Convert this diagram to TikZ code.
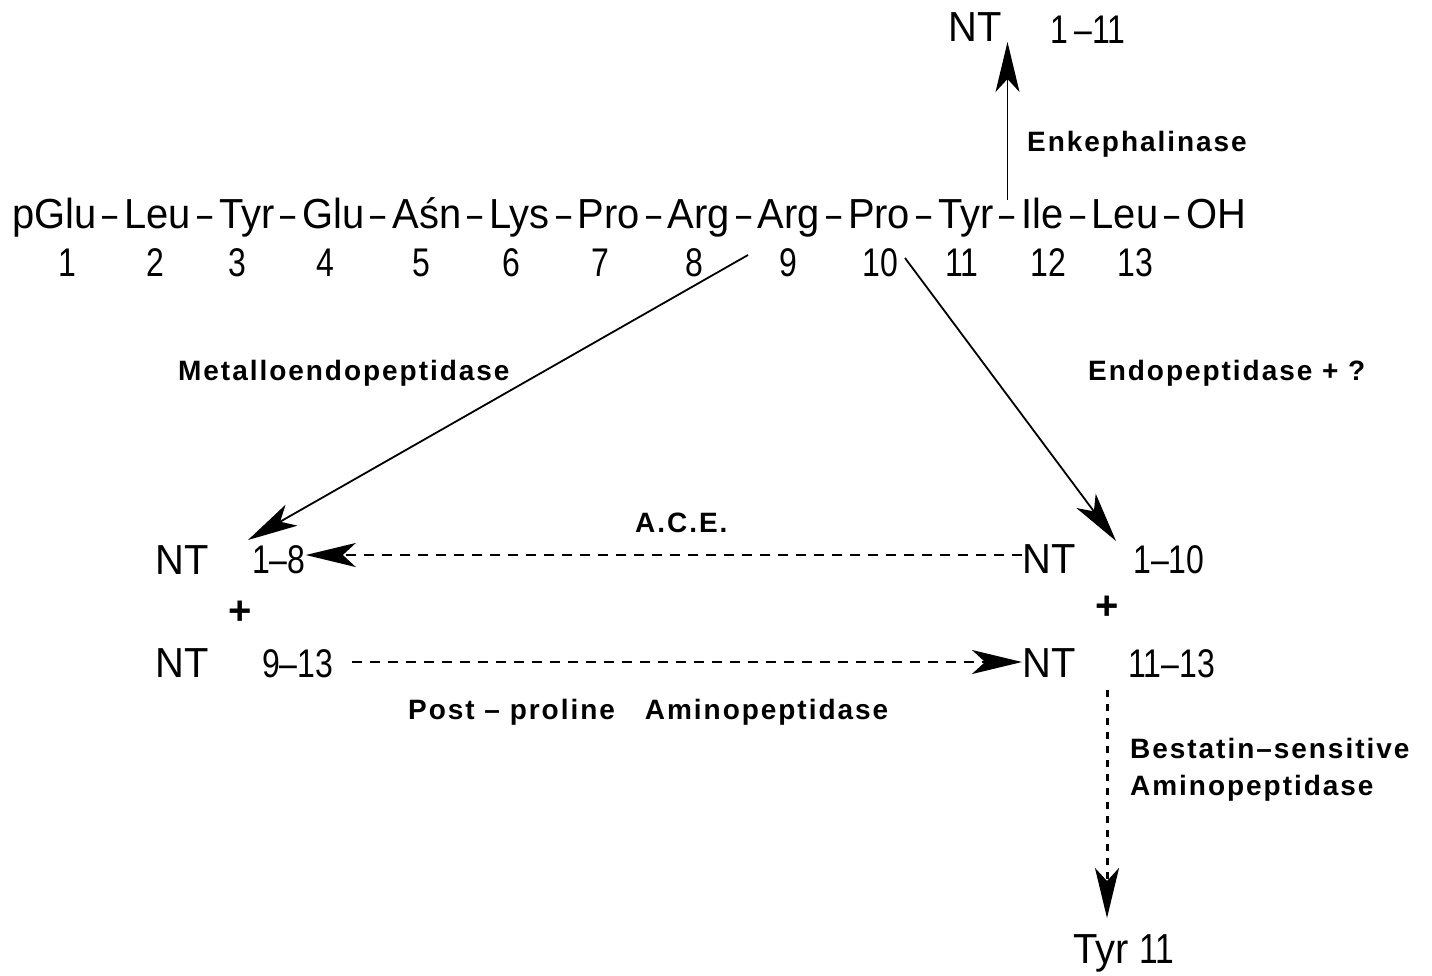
\documentclass[tikz,border=0pt]{standalone}
\usepackage{fontspec}
\setmainfont{Liberation Sans}
\newfontfamily\labfont[LetterSpace=7]{Liberation Sans Bold}
\newfontfamily\seqfont[FakeStretch=0.95]{Liberation Sans}
\newfontfamily\dashfont[FakeStretch=0.65]{Liberation Sans}
\newfontfamily\numfont[FakeStretch=0.8]{Liberation Sans}
\usetikzlibrary{arrows.meta}
\tikzset{
  seq/.style={font=\seqfont\fontsize{42}{42}\selectfont, anchor=base west, inner sep=0pt},
  dsh/.style={font=\dashfont\fontsize{42}{42}\selectfont, anchor=base west, inner sep=0pt},
  seqw/.style={font=\seqfont\fontsize{42}{42}\selectfont, anchor=base west, inner sep=0pt},
  num/.style={font=\numfont\fontsize{40}{40}\selectfont, anchor=base, inner sep=0pt},
  numw/.style={font=\numfont\fontsize{40}{40}\selectfont, anchor=base west, inner sep=0pt},
  lab/.style={font=\labfont\fontsize{28}{37}\selectfont, anchor=base west, inner sep=0pt, align=left},
  plus/.style={font=\bfseries\fontsize{40}{40}\selectfont, inner sep=0pt},
  tip/.style={-{Stealth[length=50pt,width=24pt,inset=13pt]}},
  solidarr/.style={tip, line width=1.8pt},
  dasharr/.style={tip, line width=2.4pt, dash pattern=on 10pt off 8pt},
  dotarr/.style={tip, line width=3pt, dash pattern=on 7pt off 7pt}
}
\def\g{6pt}
\begin{document}
\begin{tikzpicture}[x=1pt,y=-1pt]
\useasboundingbox (0,0) rectangle (1432,975);
% sequence
\node[seq] (r1) at (12,228) {pGlu};
\node[dsh] (d1) at ([xshift=\g]r1.base east) {–};
\node[seq] (r2) at ([xshift=\g]d1.base east) {Leu};
\node[dsh] (d2) at ([xshift=\g]r2.base east) {–};
\node[seq] (r3) at ([xshift=\g]d2.base east) {Tyr};
\node[dsh] (d3) at ([xshift=\g]r3.base east) {–};
\node[seq] (r4) at ([xshift=\g]d3.base east) {Glu};
\node[dsh] (d4) at ([xshift=\g]r4.base east) {–};
\node[seq] (r5) at ([xshift=\g]d4.base east) {Aśn};
\node[dsh] (d5) at ([xshift=\g]r5.base east) {–};
\node[seq] (r6) at ([xshift=\g]d5.base east) {Lys};
\node[dsh] (d6) at ([xshift=\g]r6.base east) {–};
\node[seq] (r7) at ([xshift=\g]d6.base east) {Pro};
\node[dsh] (d7) at ([xshift=\g]r7.base east) {–};
\node[seq] (r8) at ([xshift=\g]d7.base east) {Arg};
\node[dsh] (d8) at ([xshift=\g]r8.base east) {–};
\node[seq] (r9) at ([xshift=\g]d8.base east) {Arg};
\node[dsh] (d9) at ([xshift=\g]r9.base east) {–};
\node[seq] (r10) at ([xshift=\g]d9.base east) {Pro};
\node[dsh] (d10) at ([xshift=\g]r10.base east) {–};
\node[seq] (r11) at ([xshift=\g]d10.base east) {Tyr};
\node[dsh] (d11) at ([xshift=\g]r11.base east) {–};
\node[seq] (r12) at ([xshift=\g]d11.base east) {Ile};
\node[dsh] (d12) at ([xshift=\g]r12.base east) {–};
\node[seq] (r13) at ([xshift=\g]d12.base east) {Leu};
\node[dsh] (d13) at ([xshift=\g]r13.base east) {–};
\node[seq] (r14) at ([xshift=\g]d13.base east) {OH};
% numbers
\node[num] (n1) at (67,276) {1};
\node[num] (n2) at (155,276) {2};
\node[num] (n3) at (237,276) {3};
\node[num] (n4) at (325,276) {4};
\node[num] (n5) at (421,276) {5};
\node[num] (n6) at (511,276) {6};
\node[num] (n7) at (600,276) {7};
\node[num] (n8) at (694,276) {8};
\node[num] (n9) at (788,276) {9};
\node[num] (n10) at (880,276) {10};
\node[num] (n11) at (962,276) {11};
\node[num] (n12) at (1048,276) {12};
\node[num] (n13) at (1135,276) {13};
% top product
\node[seqw] (ntA) at (948,41) {NT};
\node[numw] (ntAn) at (1050,43) {1\,–11};
\node[lab] (enk) at (1027,151) {Enkephalinase};
% enzyme labels
\node[lab] (met) at (178,380) {Metalloendopeptidase};
\node[lab] (endo) at (1088,380) {Endopeptidase + ?};
\node[lab] (ace) at (635,532) {A.C.E.};
\node[lab] (ppa) at (408,719) {Post – proline\hspace{30pt}Aminopeptidase};
\node[lab] (bes) at (1130,795) {Bestatin–sensitive\\Aminopeptidase};
% left products
\node[seqw] (ntB) at (155,574) {NT};
\node[numw] (ntBn) at (252,573) {1–8};
\node[plus] (plB) at (240,613) {+};
\node[seqw] (ntC) at (155,677) {NT};
\node[numw] (ntCn) at (262,677) {9–13};
% right products
\node[seqw] (ntD) at (1022,573) {NT};
\node[numw] (ntDn) at (1133,573) {1–10};
\node[plus] (plD) at (1107,608) {+};
\node[seqw] (ntE) at (1022,677) {NT};
\node[numw] (ntEn) at (1128,677) {11–13};
\node[seqw] (tyr) at (1073,963) {Tyr \numfont 11};
% connectors
\draw[solidarr] (d11.center |- 0,200) -- (d11.center |- 0,42);
\coordinate (metS) at (748,255);
\coordinate (metE) at (248,540);
\draw[solidarr] (metS) -- (metE);
\coordinate (endS) at (905,258);
\coordinate (endE) at (1116,541);
\draw[solidarr] (endS) -- (endE);
\draw[dasharr] (ntD.west |- 0,555) -- (ntBn.east |- 0,555);
\draw[dasharr] (ntCn.east |- 0,662) ++(18,0) -- (ntE.west |- 0,662);
\coordinate (besS) at (1107,690);
\draw[dotarr] (besS) -- (besS |- 0,918);
\end{tikzpicture}
\end{document}
